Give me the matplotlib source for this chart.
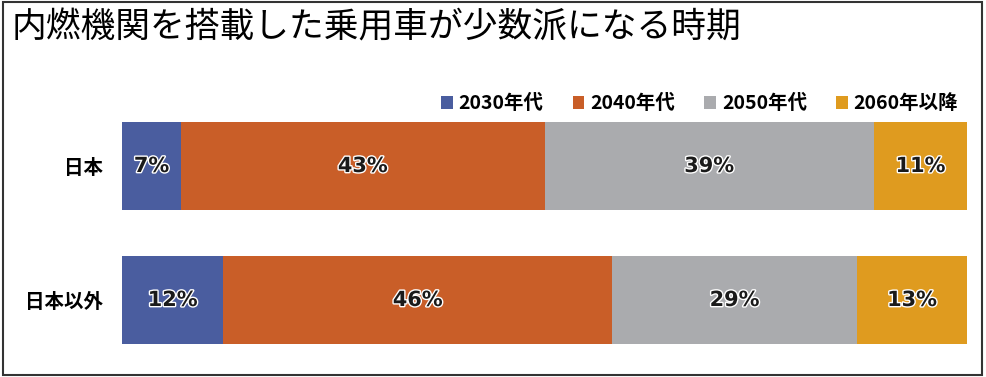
import matplotlib.pyplot as plt
import matplotlib.patheffects as pe
from matplotlib.patches import Rectangle

plt.rcParams['font.family'] = ['Noto Sans CJK JP', 'DejaVu Sans']

title = '内燃機関を搭載した乗用車が少数派になる時期'
regions = ['日本', '日本以外']
periods = ['2030年代', '2040年代', '2050年代', '2060年以降']
colors = ['#4A5D9F', '#C95E28', '#AAABAE', '#DF9B1F']
# share (%) per period, one list per region
japan = [7, 43, 39, 11]
others = [12, 46, 29, 13]
shares = [japan, others]

fig = plt.figure(figsize=(9.86, 3.77), dpi=100)
ax = fig.add_axes([122 / 986, 1 - 344 / 377, (967 - 122) / 986, (344 - 122) / 377])

bar_h = 0.657
for i, vals in enumerate(shares):
    left = 0
    for j, v in enumerate(vals):
        ax.barh(i, v, left=left, height=bar_h, color=colors[j],
                label=periods[j] if i == 0 else None)
        t = ax.text(left + v / 2, i, f'{v}%', ha='center', va='center',
                    fontsize=15, fontweight='bold', color='#1a1a1a',
                    family=['DejaVu Sans'])
        t.set_path_effects([pe.withStroke(linewidth=2, foreground='white')])
        left += v

ax.set_xlim(0, 100)
ax.set_ylim(1 + bar_h / 2, -bar_h / 2)
ax.set_yticks(range(len(regions)))
ax.set_yticklabels(regions, fontsize=14, fontweight='bold')
ax.tick_params(axis='y', length=0, pad=14)
ax.set_xticks([])
for s in ax.spines.values():
    s.set_visible(False)

ax.legend(loc='lower right', bbox_to_anchor=(1.0, 1.0), ncol=4, frameon=False,
          prop={'size': 14, 'weight': 'bold'}, handlelength=0.6, handleheight=0.6,
          handletextpad=0.3, columnspacing=1.5, borderaxespad=0.05)

fig.text(12 / 986, 1 - 28 / 377, title, fontsize=25, va='center', ha='left')

fig.patches.append(Rectangle((0.003, 0.006), 0.993, 0.988, transform=fig.transFigure,
                             fill=False, edgecolor='#333333', linewidth=1.5))

fig.savefig('out.png', dpi=100)
